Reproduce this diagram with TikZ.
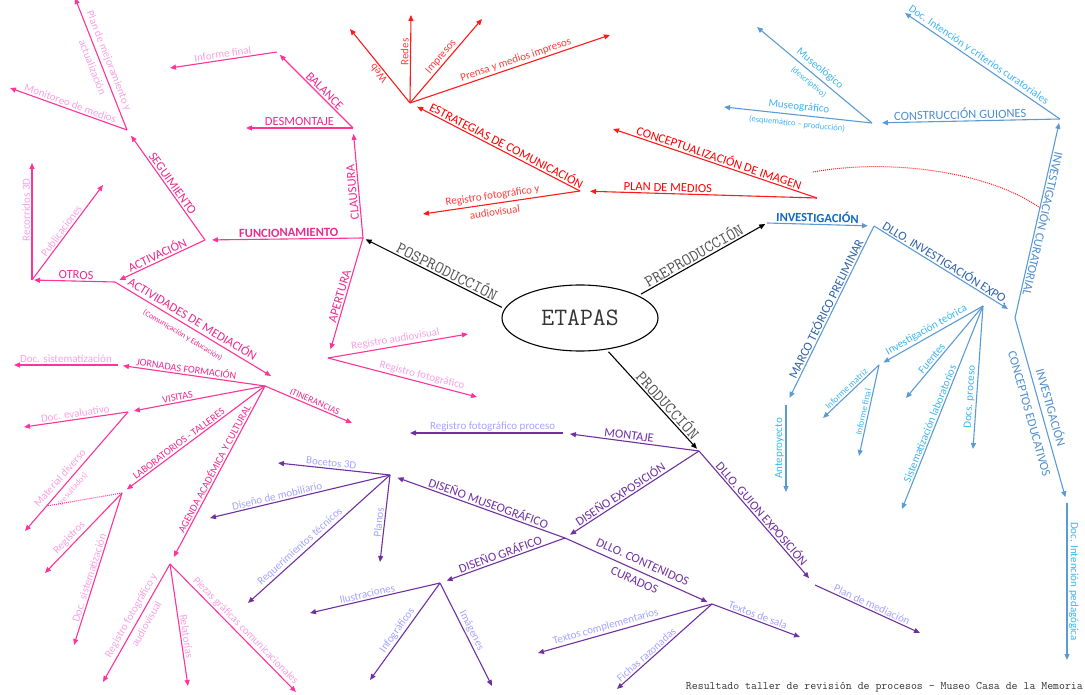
\documentclass[tikz,border=0pt]{standalone}
\usepackage{fontspec}
\setmainfont{Carlito}
\usetikzlibrary{arrows.meta,shapes.geometric,calc,positioning}
\definecolor{pinkln}{HTML}{FF3399}
\definecolor{pinktx}{HTML}{EC2A8E}
\definecolor{pinklt}{HTML}{F7A1E4}
\definecolor{redln}{HTML}{FF1A1A}
\definecolor{redtx}{HTML}{FF0000}
\definecolor{redlt}{HTML}{FF3B3B}
\definecolor{blueln}{HTML}{5B9BD5}
\definecolor{bluetx}{HTML}{4C8DD0}
\definecolor{bluedk}{HTML}{2F62A8}
\definecolor{bluebd}{HTML}{1168C0}
\definecolor{bluelt}{HTML}{3CB4F0}
\definecolor{purln}{HTML}{7030A0}
\definecolor{purlt}{HTML}{A3A3FF}
\definecolor{stagetx}{HTML}{505050}
\newcommand{\lblmain}{\fontsize{12.5}{14}\selectfont}
\newcommand{\lblmid}{\fontsize{10.3}{12}\selectfont}
\newcommand{\lblleaf}{\fontsize{11}{13}\selectfont}
\newcommand{\lblsmall}{\fontsize{8.5}{10}\selectfont}

\begin{document}
\begin{tikzpicture}[x=1pt,y=-1pt,
  >={Triangle[length=6pt,width=5pt]},
  hop/.style={->,shorten >=#1}, hop/.default=6pt,
  lbl/.style={sloped,above,inner sep=1.5pt},
  lblud/.style={lbl,allow upside down},
  lbltwo/.style={sloped,align=center,inner sep=0pt},
  vup/.style={rotate=90,above,inner sep=1.5pt},
  bk/.style={draw=black,line width=1.1pt},
  pk/.style={draw=pinkln,line width=1.1pt},
  rd/.style={draw=redln,line width=1.1pt},
  bl/.style={draw=blueln,line width=1.1pt},
  pu/.style={draw=purln,line width=1.1pt},
  stage/.style={text=stagetx,font=\ttfamily\fontsize{16.5}{18}\selectfont},
  pkm/.style={text=pinktx,font=\lblmain},
  pks/.style={text=pinktx,font=\lblmid},
  pkl/.style={text=pinklt,font=\lblleaf},
  rdm/.style={text=redtx,font=\lblmain},
  rdl/.style={text=redlt,font=\lblleaf},
  blm/.style={text=bluetx,font=\lblmain},
  bld/.style={text=bluedk,font=\lblmain},
  bll/.style={text=bluelt,font=\lblleaf},
  pum/.style={text=purln,font=\lblmain},
  pul/.style={text=purlt,font=\lblleaf}
]
\useasboundingbox (0,0) rectangle (1085,695);
\clip (0,0) rectangle (1085,695);

\node[ellipse,draw,line width=1.1pt,minimum width=156pt,minimum height=66pt,text=black!80,font=\ttfamily\fontsize{25}{28}\selectfont] (etapas) at (580,318) {ETAPAS};
\coordinate (pos) at (363,238);
\coordinate (pre) at (767,223);
\coordinate (prod) at (699,451);
\draw[bk,hop=3pt,shorten <=3pt] (etapas.173) -- node[lbl,stage,pos=0.43]{POSPRODUCCIÓN} (pos);
\draw[bk,hop=2pt,shorten <=3pt] (etapas.21) -- node[lbl,stage,pos=0.46]{PREPRODUCCIÓN} (pre);
\draw[bk,hop=3pt,shorten <=3pt] (etapas.-50) -- node[lbl,stage,pos=0.6]{PRODUCCIÓN} (prod);

\coordinate (claus) at (353,128);
\coordinate (desm) at (246,128);
\coordinate (bal) at (277,52);
\coordinate (inff) at (170,68);
\coordinate (func) at (205,240);
\coordinate (seg) at (127,130);
\coordinate (monit) at (10,88);
\coordinate (planm) at (75,-2);
\coordinate (act) at (115,282);
\coordinate (otros) at (32,280);
\coordinate (rec) at (32,163);
\coordinate (pub) at (103,185);
\coordinate (mediac) at (271,376);
\coordinate (med) at (265,386);
\coordinate (jorn) at (118,365);
\coordinate (docsis) at (14,365);
\coordinate (vis) at (128,412);
\coordinate (doceva) at (24,427);
\coordinate (matdiv) at (25,531);
\coordinate (matdot) at ($(vis)!0.79!(matdiv)$);
\coordinate (lab) at (122,493);
\coordinate (regs) at (45,573);
\coordinate (docsisb) at (74,645);
\coordinate (agenda) at (170,564);
\coordinate (regfa) at (103,682);
\coordinate (relat) at (188,686);
\coordinate (piezas) at (296,692);
\coordinate (itin) at (352,423);
\coordinate (apert) at (328,358);
\coordinate (regau) at (468,334);
\coordinate (regfo) at (477,397);

\draw[pk,hop] (pos) -- node[lblud,pkm,pos=0.42]{CLAUSURA} (claus);
\draw[pk,->] (claus) -- node[lbl,pkm]{DESMONTAJE} (desm);
\draw[pk,hop=4pt] (claus) -- node[lbl,pkm,pos=0.43]{BALANCE} (bal);
\draw[pk,->] (bal) -- node[lbl,pkl]{Informe final} (inff);
\draw[pk,hop=7pt] (pos) -- node[lbl,pkm,font=\lblmain\bfseries,pos=0.47]{FUNCIONAMIENTO} (func);
\draw[pk,hop=7pt] (func) -- node[lbl,pkm,pos=0.48]{SEGUIMIENTO} (seg);
\draw[pk,->] (seg) -- node[lbl,pkl]{Monitoreo de medios} (monit);
\draw[pk,->] (seg) -- node[lbltwo,pkl]{Plan de mejoramiento y\\[5pt]actualización} (planm);
\draw[pk,hop=5pt] (func) -- node[lbl,pkm]{ACTIVACIÓN} (act);
\draw[pk,hop=2pt] (act) -- node[lbl,pkm,pos=0.47]{OTROS} (otros);
\draw[pk,->] (otros) -- node[lbl,pkl,pos=0.6]{Recorridos 3D} (rec);
\draw[pk,->] (otros) -- node[lbl,pkl,pos=0.48]{Publicaciones} (pub);
\draw[pk,->] (act) -- node[lbltwo,pkm,pos=0.47]{ACTIVIDADES DE MEDIACIÓN\\[3pt]{\fontsize{8}{9}\selectfont(Comunicación y Educación)}} (mediac);
\draw[pk,hop=5pt] (med) -- node[lbl,pks,pos=0.54]{JORNADAS FORMACIÓN} (jorn);
\draw[pk,->] (jorn) -- node[lbl,pkl]{Doc. sistematización} (docsis);
\draw[pk,hop=6pt] (med) -- node[lbl,pks,pos=0.63]{VISITAS} (vis);
\draw[pk,->] (vis) -- node[lbl,pkl]{Doc. evaluativo} (doceva);
\draw[pk,->] (vis) -- node[lbltwo,pkl,pos=0.6]{Material diverso\\[3pt]{\lblsmall(resultados)}} (matdiv);
\draw[pk,hop=6pt] (med) -- node[lbl,pks,pos=0.58]{LABORATORIOS - TALLERES} (lab);
\draw[pinkln,line width=1pt,densely dotted] (lab) -- (matdot);
\draw[pk,->] (lab) -- node[lbl,pkl,pos=0.62]{Registros} (regs);
\draw[pk,->] (lab) -- node[lbl,pkl,pos=0.57]{Doc. sistematización} (docsisb);
\draw[pk,hop=8pt] (med) -- node[lbl,pks,pos=0.48]{AGENDA ACADÉMICA Y CULTURAL} (agenda);
\draw[pk,->] (agenda) -- node[lbltwo,pkl,pos=0.47]{Registro fotográfico y\\[5pt]audiovisual} (regfa);
\draw[pk,->] (agenda) -- node[lbl,pkl,pos=0.6]{Relatorías} (relat);
\draw[pk,->] (agenda) -- node[lbl,pkl,pos=0.56]{Piezas gráficas comunicacionales} (piezas);
\draw[pk,->] (med) -- node[lbl,pks,font=\fontsize{9.3}{11}\selectfont,pos=0.55]{ITINERANCIAS} (itin);
\draw[pk,hop=9pt] (pos) -- node[lbl,pkm]{APERTURA} (apert);
\draw[pk,->] (apert) -- node[lbl,pkl,pos=0.49]{Registro audiovisual} (regau);
\draw[pk,->] (apert) -- node[lbl,pkl,pos=0.62]{Registro fotográfico} (regfo);

\coordinate (red0) at (817,198);
\coordinate (plan) at (580,191);
\coordinate (concep) at (613,129);
\coordinate (estr) at (410,103);
\coordinate (regfr) at (423,214);
\coordinate (web) at (350,29);
\coordinate (redes) at (411,15);
\coordinate (impr) at (482,19);
\coordinate (prensa) at (610,35);
\coordinate (dota) at (813,172);
\coordinate (dotb) at (1040,208);

\draw[rd,->] (red0) -- node[lbl,rdm,pos=0.49]{CONCEPTUALIZACIÓN DE IMAGEN} (concep);
\draw[rd,hop=10pt] (red0) -- node[lbl,rdm,pos=0.63]{PLAN DE MEDIOS} (plan);
\draw[rd,hop=8pt] (plan) -- node[lbl,rdm,pos=0.45]{ESTRATEGIAS DE COMUNICACIÓN} (estr);
\draw[rd,->] (plan) -- node[lbltwo,rdl,pos=0.55]{Registro fotográfico y\\[4pt]audiovisual} (regfr);
\draw[rd,->] (estr) -- node[lblud,rdl,pos=0.45]{Web} (web);
\draw[rd,->] (estr) -- node[lbl,rdl,pos=0.58]{Redes} (redes);
\draw[rd,->] (estr) -- node[lbl,rdl]{Impresos} (impr);
\draw[rd,->] (estr) -- node[lbl,rdl,pos=0.54]{Prensa y medios impresos} (prensa);
\draw[redln,line width=1pt,densely dotted] (dota) .. controls (890,158) and (990,172) .. (dotb);

\coordinate (inv) at (874,226);
\coordinate (marco) at (786,405);
\coordinate (antep) at (786,492);
\coordinate (dlloexp) at (1008,309);
\coordinate (teo) at (983,306);
\coordinate (invteo) at (879,365);
\coordinate (infm) at (823,418);
\coordinate (inffin) at (859,456);
\coordinate (fuentes) at (906,398);
\coordinate (sistlab) at (902,509);
\coordinate (docsp) at (973,449);
\coordinate (curb) at (1015,318);
\coordinate (cur) at (1060,119);
\coordinate (guion) at (872,123);
\coordinate (museol) at (757,27);
\coordinate (museog) at (724,107);
\coordinate (docint) at (905,13);
\coordinate (conc) at (1067,503);
\coordinate (docped) at (1067,660);

\draw[bl,hop=6pt] (pre) -- node[lbl,text=bluebd,font=\lblmain\bfseries,pos=0.47]{INVESTIGACIÓN} (inv);
\draw[bl,->] (inv) -- node[lbl,bld,pos=0.51]{DLLO. INVESTIGACIÓN EXPO.} (dlloexp);
\draw[bl,hop=8pt] (inv) -- node[lbl,bld,pos=0.48]{MARCO TEÓRICO PRELIMINAR} (marco);
\draw[bl,->] (marco) -- node[vup,bll]{Anteproyecto} (antep);
\draw[bl,hop=5pt] (teo) -- node[lbl,bll,pos=0.51]{Investigación teórica} (invteo);
\draw[bl,->] (invteo) -- node[lbl,bll,font=\fontsize{9}{11}\selectfont,pos=0.52]{Informe matriz} (infm);
\draw[bl,->] (invteo) -- node[lbl,bll,font=\fontsize{9}{11}\selectfont,pos=0.53]{Informe final} (inffin);
\draw[bl,->] (teo) -- node[lbl,bll,pos=0.61]{Fuentes} (fuentes);
\draw[bl,->] (teo) -- node[lbl,bll,pos=0.59]{Sistematización laboratorios} (sistlab);
\draw[bl,->] (teo) -- node[lbl,bll,pos=0.64]{Docs. proceso} (docsp);
\draw[bl,<-,shorten <=4pt] (cur) -- node[lblud,blm,pos=0.52]{INVESTIGACIÓN CURATORIAL} (curb);
\draw[bl,hop=10pt] (cur) -- node[lbl,blm,pos=0.53]{CONSTRUCCIÓN GUIONES} (guion);
\draw[bl,->] (guion) -- node[lbltwo,bll]{Museológico\\[4pt]{\lblsmall(descriptivo)}} (museol);
\draw[bl,->] (guion) -- node[lbltwo,bll]{Museográfico\\[4pt]{\lblsmall(esquemático – producción)}} (museog);
\draw[bl,->] (cur) -- node[lbl,bll,pos=0.55]{Doc. Intención y criterios curatoriales} (docint);
\draw[bl,hop=6pt] (curb) -- node[lbltwo,blm]{INVESTIGACIÓN\\[8pt]CONCEPTOS EDUCATIVOS} (conc);
\draw[bl,->] (conc) -- node[lbl,bll]{Doc. Intención pedagógica} (docped);

\coordinate (montaje) at (563,433);
\coordinate (regproc) at (410,433);
\coordinate (dis) at (565,538);
\coordinate (museo) at (390,475);
\coordinate (bocetos) at (278,463);
\coordinate (mobil) at (210,518);
\coordinate (req) at (248,603);
\coordinate (planos) at (380,562);
\coordinate (graf) at (440,583);
\coordinate (ilus) at (310,613);
\coordinate (infog) at (370,680);
\coordinate (imag) at (492,686);
\coordinate (cont) at (712,604);
\coordinate (txtc) at (538,653);
\coordinate (fichas) at (617,689);
\coordinate (txts) at (800,637);
\coordinate (guionexp) at (815,585);
\coordinate (planmed) at (920,633);

\draw[pu,hop=7pt] (prod) -- node[lbl,pum,pos=0.52]{MONTAJE} (montaje);
\draw[pu,->] (montaje) -- node[lbl,pul,pos=0.46]{Registro fotográfico proceso} (regproc);
\draw[pu,hop=6pt] (prod) -- node[lbl,pum,pos=0.56]{DISEÑO EXPOSICIÓN} (dis);
\draw[pu,hop=9pt] (prod) -- node[lbl,pum]{DLLO. GUION EXPOSICIÓN} (guionexp);
\draw[pu,->] (guionexp) -- node[lbl,pul,pos=0.52]{Plan de mediación} (planmed);
\draw[pu,hop=8pt] (dis) -- node[lbl,pum,pos=0.45]{DISEÑO MUSEOGRÁFICO} (museo);
\draw[pu,hop=7pt] (dis) -- node[lbl,pum]{DISEÑO GRÁFICO} (graf);
\draw[pu,hop=5pt] (dis) -- node[lbltwo,pum]{DLLO. CONTENIDOS\\[6pt]CURADOS} (cont);
\draw[pu,->] (museo) -- node[lbl,pul,pos=0.53]{Bocetos 3D} (bocetos);
\draw[pu,->] (museo) -- node[lbl,pul,pos=0.62]{Diseño de mobiliario} (mobil);
\draw[pu,->] (museo) -- node[lbl,pul,pos=0.6]{Requerimientos técnicos} (req);
\draw[pu,->] (museo) -- node[lbl,pul,pos=0.55]{Planos} (planos);
\draw[pu,->] (graf) -- node[lbl,pul,pos=0.55]{Ilustraciones} (ilus);
\draw[pu,->] (graf) -- node[lbl,pul,pos=0.53]{Infográficos} (infog);
\draw[pu,->] (graf) -- node[lbl,pul,pos=0.49]{Imágenes} (imag);
\draw[pu,->] (cont) -- node[lbl,pul,pos=0.6]{Textos complementarios} (txtc);
\draw[pu,->] (cont) -- node[lbl,pul,pos=0.65]{Fichas razonadas} (fichas);
\draw[pu,->] (cont) -- node[lbl,pul]{Textos de sala} (txts);

\node[anchor=east,inner sep=0pt,text=black!80,font=\ttfamily\fontsize{11.5}{13}\selectfont] (foot) at (1083,687) {Resultado taller de revisión de procesos - Museo Casa de la Memoria};
\end{tikzpicture}
\end{document}
